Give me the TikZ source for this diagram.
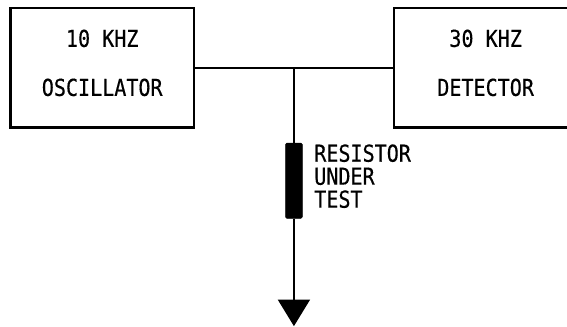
\documentclass[tikz,border=0pt]{standalone}
\usepackage{fontspec}
\usepackage{tikz}
\usetikzlibrary{arrows.meta}
\usetikzlibrary{calc}
\usetikzlibrary{positioning}
\newfontfamily\plotfont[FakeStretch=0.86,FakeBold=0.4]{DejaVu Sans Mono}
\tikzset{
  caixa/.style={draw, line width=1.7pt, align=center, minimum width=4.84cm, minimum height=3.15cm, inner sep=0pt, text depth=7.5pt, font=\plotfont\fontsize{17.5}{36.75}\selectfont},
  resistor/.style={draw, fill=black, line width=0.5pt, rounded corners=1pt, minimum width=0.44cm, minimum height=1.98cm, inner sep=0pt},
  rotulo/.style={align=left, inner sep=0pt, font=\plotfont\fontsize{17.5}{17.25}\selectfont},
  fio/.style={line width=1.7pt},
  seta/.style={-{Triangle[length=0.7cm, width=0.84cm]}, line width=1.7pt},
}
\begin{document}
\begin{tikzpicture}
  \clip (0,0) rectangle (14.95,-8.62);
  \node[caixa] (osc) at (2.695,-1.786) {10 KHZ\\OSCILLATOR};
  \node[caixa, right=5.21cm of osc] (det) {30 KHZ\\DETECTOR};
  \coordinate (tee) at ($(osc.east)!0.5!(det.west)$);
  \node[resistor, below=1.98cm of tee] (res) {};
  \node[rotulo, anchor=north west] (lbl) at (8.28,-3.8) {RESISTOR\\UNDER\\TEST};
  \coordinate (gnd) at (tee |- 0,-8.6);

  \draw[fio] (osc) -- (det);
  \draw[fio] (tee) -- (res);
  \draw[seta] (res) -- (gnd);
\end{tikzpicture}
\end{document}
